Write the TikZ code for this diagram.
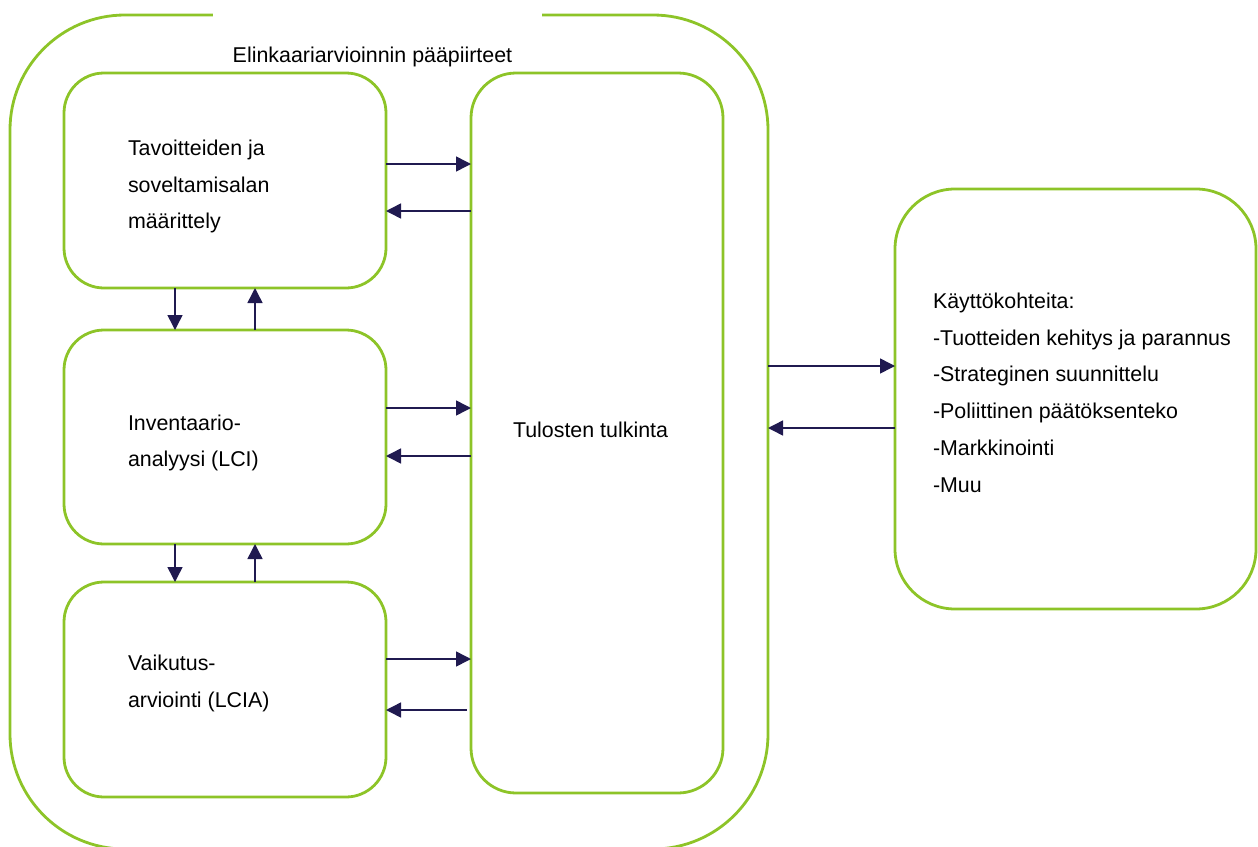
\documentclass[tikz,border=0pt]{standalone}
\usepackage{fontspec}
\setmainfont{Liberation Sans}
\usetikzlibrary{arrows.meta}
\definecolor{lgreen}{RGB}{141,196,40}
\definecolor{navy}{RGB}{32,26,80}
\begin{document}
\begin{tikzpicture}[x=1pt,y=-1pt,
  every node/.style={inner sep=0pt, outer sep=0pt, font=\fontsize{21.4}{25}\selectfont},
  gbox/.style={draw=lgreen, line width=2.8pt, shape=rectangle},
  arr/.style={draw=navy, line width=1.5pt, -{Triangle[length=15pt,width=15pt]}},
  txt/.style={anchor=base west}]
\useasboundingbox (0,0) rectangle (1258,846);
% outer
\node[gbox, rounded corners=115pt, minimum width=758pt, minimum height=834pt] (outer) at (389,432) {};
\fill[white] (213,5) rectangle (542,68);
\node[anchor=base] (title) at (372.5,62) {Elinkaariarvioinnin pääpiirteet};
% inner boxes
\node[gbox, rounded corners=40pt, minimum width=322pt, minimum height=215pt] (b1) at (225,180.5) {};
\node[gbox, rounded corners=40pt, minimum width=322pt, minimum height=214pt] (b2) at (225,437) {};
\node[gbox, rounded corners=40pt, minimum width=322pt, minimum height=215pt] (b3) at (225,689.5) {};
\node[gbox, rounded corners=45pt, minimum width=252pt, minimum height=720pt] (tt) at (597,433) {};
\node[gbox, rounded corners=60pt, minimum width=361pt, minimum height=420pt] (rb) at (1075.5,399) {};
% texts
\node[txt] (t1a) at (128,155) {Tavoitteiden ja};
\node[txt] (t1b) at (128,192) {soveltamisalan};
\node[txt] (t1c) at (128,228) {määrittely};
\node[txt] (t2a) at (128,430) {Inventaario-};
\node[txt] (t2b) at (128,466) {analyysi (LCI)};
\node[txt] (t3a) at (128,670) {Vaikutus-};
\node[txt] (t3b) at (128,707) {arviointi (LCIA)};
\node[txt] (tt1) at (513,437) {Tulosten tulkinta};
\node[txt] (r1) at (933,308) {Käyttökohteita:};
\node[txt] (r2) at (933,345) {-Tuotteiden kehitys ja parannus};
\node[txt] (r3) at (933,381) {-Strateginen suunnittelu};
\node[txt] (r4) at (933,418) {-Poliittinen päätöksenteko};
\node[txt] (r5) at (933,455) {-Markkinointi};
\node[txt] (r6) at (933,492) {-Muu};
% horizontal arrows
\draw[arr] (b1.east |- 0,164) -- (tt.west |- 0,164);
\draw[arr] (tt.west |- 0,211) -- (b1.east |- 0,211);
\draw[arr] (b2.east |- 0,408) -- (tt.west |- 0,408);
\draw[arr] (tt.west |- 0,456) -- (b2.east |- 0,456);
\draw[arr] (b3.east |- 0,659) -- (tt.west |- 0,659);
\coordinate (c3) at (467,710);
\draw[arr] (c3) -- (b3.east |- 0,710);
% vertical arrows
\draw[arr] (b1.south -| 175,0) -- (b2.north -| 175,0);
\draw[arr] (b2.north -| 255,0) -- (b1.south -| 255,0);
\draw[arr] (b2.south -| 175,0) -- (b3.north -| 175,0);
\draw[arr] (b3.north -| 255,0) -- (b2.south -| 255,0);
% outer arrows
\draw[arr] (outer.east |- 0,366) -- (rb.west |- 0,366);
\draw[arr] (rb.west |- 0,428) -- (outer.east |- 0,428);
\end{tikzpicture}
\end{document}
